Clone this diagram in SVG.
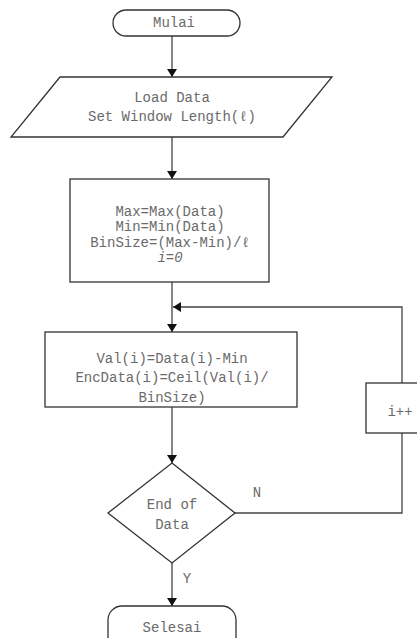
<svg xmlns="http://www.w3.org/2000/svg" width="417" height="638" viewBox="0 0 417 638">
<style>
.s{fill:#fff;stroke:#333;stroke-width:1.3}
.c{fill:none;stroke:#444;stroke-width:1.3}
text{font-family:"Liberation Mono","DejaVu Sans Mono",monospace;font-size:14px;fill:#6a6a6a;text-anchor:middle;dominant-baseline:central}
</style>
<defs>
<marker id="ah" viewBox="0 0 8 14" refX="8" refY="7" markerWidth="8" markerHeight="14" markerUnits="userSpaceOnUse" orient="auto">
<path d="M0,2 L8,7 L0,12 Z" fill="#111"/>
</marker>
</defs>
<rect width="417" height="638" fill="#fff"/>
<g id="connectors">
<line class="c" x1="172" y1="36" x2="172" y2="77" marker-end="url(#ah)"/>
<line class="c" x1="172" y1="137" x2="172" y2="179" marker-end="url(#ah)"/>
<line class="c" x1="172" y1="282" x2="172" y2="332" marker-end="url(#ah)"/>
<polyline class="c" points="402,383 402,307 173,307" marker-end="url(#ah)"/>
<line class="c" x1="172" y1="407" x2="172" y2="463" marker-end="url(#ah)"/>
<polyline class="c" points="235,513 402,513 402,433"/>
<line class="c" x1="172" y1="563" x2="172" y2="606" marker-end="url(#ah)"/>
<text x="257" y="493">N</text>
<text x="187" y="579">Y</text>
</g>
<g id="mulai">
<rect class="s" x="113" y="10" width="127" height="26" rx="13"/>
<text x="174" y="23">Mulai</text>
</g>
<g id="load">
<polygon class="s" points="60,77 332,77 283,137 11,137"/>
<text x="172" y="98">Load Data</text>
<text x="172" y="117">Set Window Length(ℓ)</text>
</g>
<g id="init">
<rect class="s" x="70" y="179" width="199" height="103"/>
<text x="170" y="212">Max=Max(Data)</text>
<text x="170" y="227">Min=Min(Data)</text>
<text x="170" y="243">BinSize=(Max-Min)/ℓ</text>
<text x="170" y="258" font-style="italic">i=0</text>
</g>
<g id="encode">
<rect class="s" x="45" y="332" width="252" height="75"/>
<text x="172" y="359">Val(i)=Data(i)-Min</text>
<text x="172" y="378">EncData(i)=Ceil(Val(i)/</text>
<text x="172" y="398">BinSize)</text>
</g>
<g id="decision">
<polygon class="s" points="172,463 235,513 172,563 108,513"/>
<text x="172" y="505">End of</text>
<text x="172" y="525">Data</text>
</g>
<g id="increment">
<rect class="s" x="366" y="383" width="72" height="50"/>
<text x="400" y="412">i++</text>
</g>
<g id="selesai">
<rect class="s" x="108" y="606" width="128" height="44" rx="14"/>
<text x="172" y="628">Selesai</text>
</g>
</svg>
